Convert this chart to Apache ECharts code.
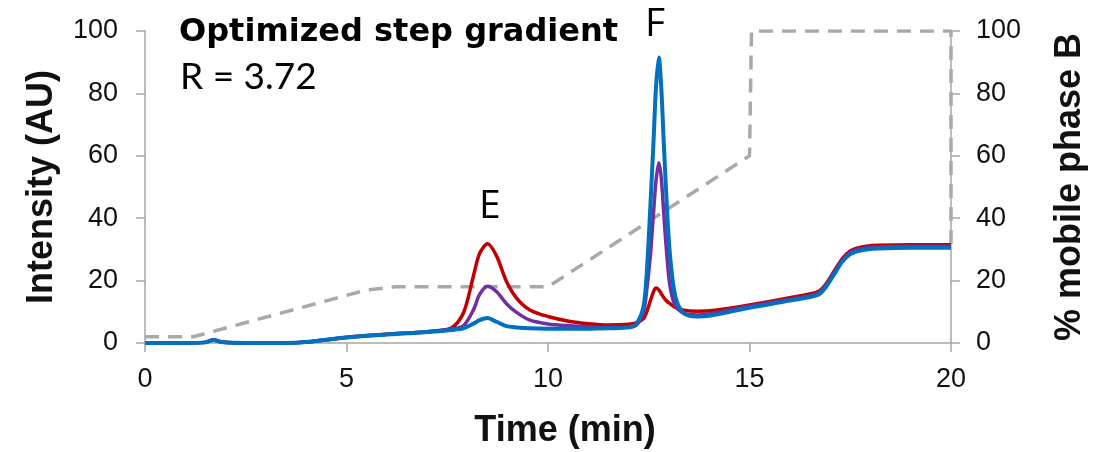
<!DOCTYPE html>
<html>
<head>
<meta charset="utf-8">
<script src="https://cdn.jsdelivr.net/npm/echarts@6/dist/echarts.min.js"></script>
<style>
  html, body { margin: 0; padding: 0; background: #fff; }
  #chart { width: 1106px; height: 452px; }
</style>
</head>
<body>
<div id="chart"></div>
<script>
// time points (min), shared by the three chromatograms
var times = [0, 1, 1.5, 1.7, 1.9, 2.5, 3.5, 4, 5, 6, 6.5, 7, 7.6, 7.9, 8.15, 8.3, 8.5, 8.72, 8.97, 9.22, 9.55, 10, 10.55, 11, 11.5, 12, 12.2, 12.37, 12.45, 12.54, 12.62, 12.68, 12.75, 12.81, 12.87, 12.95, 13.03, 13.16, 13.37, 13.7, 14, 15, 16, 16.7, 16.9, 17.1, 17.3, 17.5, 17.7, 17.9, 18.2, 19, 20];

var redValues = [0, 0, 0.2, 1, 0.3, 0, 0, 0.3, 1.8, 2.8, 3.2, 3.6, 4.8, 9.6, 21.5, 28.6, 31.8, 28, 19.7, 14.4, 10.6, 8.5, 6.9, 6.2, 5.8, 6, 6.5, 7.8, 10, 13.5, 16.5, 17.6, 17, 15.8, 14.6, 13.4, 12.6, 11.4, 10.5, 10.2, 10.3, 12.2, 14.5, 16.5, 19, 23, 27, 29.5, 30.5, 31, 31.3, 31.5, 31.5];

var purpleValues = [0, 0, 0.2, 1, 0.3, 0, 0, 0.3, 1.8, 2.8, 3.2, 3.6, 4.5, 5.5, 10.6, 15.5, 18.2, 16.5, 12.6, 9.8, 7.3, 6.1, 5.5, 5.2, 5, 5, 5.8, 10, 17, 28, 42, 52, 57.8, 53, 42, 28, 18, 12, 9.5, 9, 9.3, 11.8, 14, 16, 18.6, 22.5, 26.5, 29, 30, 30.5, 30.8, 31, 31];

var blueValues = [0, 0, 0.2, 1, 0.3, 0, 0, 0.3, 1.8, 2.7, 3.1, 3.5, 4.2, 4.7, 6.2, 7.3, 8, 6.8, 5.4, 5, 4.7, 4.6, 4.6, 4.6, 4.7, 5, 6.3, 11.7, 22.4, 43.8, 65, 82, 91.5, 82, 65, 43.8, 27.7, 14.9, 9.5, 8.5, 8.7, 11.3, 13.6, 15.4, 18, 22, 26, 28.5, 29.5, 30, 30.3, 30.5, 30.5];

// step gradient, % mobile phase B
var gradientTimes = [0, 1.2, 5.5, 6.2, 10, 15, 15.05, 20, 20];
var gradientValues = [2, 2, 17, 18, 18, 60, 100, 100, 31];

var xTicks = [0, 5, 10, 15, 20];

function pairs(xs, ys) {
    return xs.map(function(x, i) { return [x, ys[i]]; });
}

var chart = echarts.init(document.getElementById('chart'));

var axisGray = '#a6a6a6';
var labelStyle = { color: '#111', fontSize: 27, fontFamily: 'Liberation Sans, Arial, sans-serif' };
var nameStyle = { color: '#111', fontSize: 36, fontWeight: 'bold', fontFamily: 'Liberation Sans, Arial, sans-serif' };

function yAxisCfg(pos, name, gap, margin) {
    return {
        type: 'value',
        position: pos,
        min: 0,
        max: 100,
        interval: 20,
        name: name,
        nameLocation: 'middle',
        nameGap: gap,
        nameRotate: 90,
        nameTextStyle: nameStyle,
        axisLine: { show: true, lineStyle: { color: axisGray, width: 1.5 } },
        axisTick: { show: true, inside: false, length: 9, lineStyle: { color: axisGray, width: 1.5 } },
        axisLabel: Object.assign({ margin: margin }, labelStyle),
        splitLine: { show: false }
    };
}

var option = {
    animation: false,
    backgroundColor: '#fff',
    grid: { left: 145, right: 155, top: 31, bottom: 109, outerBoundsMode: 'none' },
    xAxis: {
        type: 'value',
        min: xTicks[0],
        max: xTicks[xTicks.length - 1],
        interval: 5,
        name: 'Time (min)',
        nameLocation: 'middle',
        nameGap: 70,
        nameTextStyle: Object.assign({ padding: [0, 0, 0, 34] }, nameStyle),
        axisLine: { show: true, lineStyle: { color: axisGray, width: 1.5 } },
        axisTick: { show: true, inside: false, length: 9, lineStyle: { color: axisGray, width: 1.5 } },
        axisLabel: Object.assign({ margin: 23 }, labelStyle),
        splitLine: { show: false }
    },
    yAxis: [
        yAxisCfg('left', 'Intensity (AU)', 85, 27),
        yAxisCfg('right', '% mobile phase B', 101, 25)
    ],
    graphic: [
        { type: 'text', left: 179, top: 17, style: { text: 'Optimized step gradient', fill: '#000', font: 'bold 32px "DejaVu Sans", sans-serif' } },
        { type: 'text', left: 180, top: 59, style: { text: 'R = 3.72', fill: '#000', font: '37px Lato, sans-serif' } },
        { type: 'text', left: 479, top: 187, style: { text: 'E', fill: '#000', font: '39px "Open Sans", sans-serif' } },
        { type: 'text', left: 645, top: 5, style: { text: 'F', fill: '#000', font: '39px "Open Sans", sans-serif' } }
    ],
    series: [
        {
            name: 'gradient',
            type: 'line',
            yAxisIndex: 1,
            data: pairs(gradientTimes, gradientValues),
            showSymbol: false,
            lineStyle: { color: '#a9a9a9', width: 3.5, type: [14, 9] },
            z: 1
        },
        {
            name: 'red',
            type: 'line',
            data: pairs(times, redValues),
            smooth: 0.3,
            showSymbol: false,
            lineStyle: { color: '#c00000', width: 3.5 },
            z: 2
        },
        {
            name: 'purple',
            type: 'line',
            data: pairs(times, purpleValues),
            smooth: 0.3,
            showSymbol: false,
            lineStyle: { color: '#7030a0', width: 3.5 },
            z: 3
        },
        {
            name: 'blue',
            type: 'line',
            data: pairs(times, blueValues),
            smooth: 0.3,
            showSymbol: false,
            lineStyle: { color: '#0070c0', width: 4 },
            z: 4
        }
    ]
};

chart.setOption(option);
</script>
</body>
</html>
